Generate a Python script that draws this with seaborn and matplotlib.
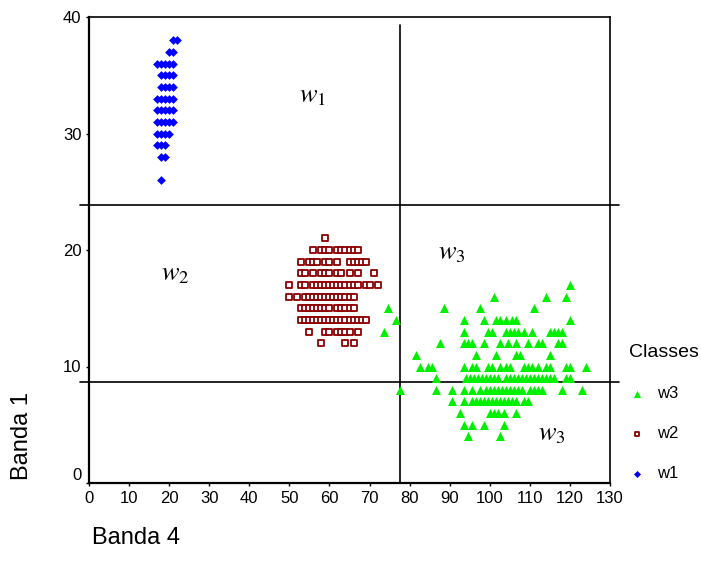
import pandas as pd
import matplotlib
matplotlib.use("Agg")
import matplotlib.pyplot as plt
import seaborn as sns

# Class w1 (blue diamonds): one row of Banda 4 values for each Banda 1 value
w1_y = [38, 37, 36, 35, 34, 33, 32, 31, 30, 29, 28, 26]
w1_x = [
    [21, 22],
    [20, 21],
    [17, 18, 19, 20, 21],
    [18, 19, 20, 21],
    [18, 19, 20, 21],
    [17, 18, 19, 20, 21],
    [17, 18, 19, 20, 21],
    [17, 18, 19, 20, 21],
    [17, 18, 19, 20],
    [17, 18, 19],
    [18, 19],
    [18],
]

# Class w2 (dark red open squares)
w2_y = [21, 20, 19, 18, 17, 16, 15, 14, 13, 12]
w2_x = [
    [59],
    [56, 58, 59, 60, 62, 63, 64, 65, 66, 67],
    [53, 55, 56, 57, 59, 60, 62, 65, 66, 67, 68, 69],
    [53, 54, 56, 58, 59, 60, 62, 63, 65, 67, 71],
    [50, 53, 54, 56, 57, 58, 59, 60, 61, 62, 63, 64, 65, 66, 67, 69, 70, 72],
    [50, 52, 54, 55, 56, 57, 58, 59, 60, 61, 62, 63, 64, 65, 66],
    [53, 54, 55, 56, 57, 58, 59, 60, 62, 63, 64, 65, 66],
    [53, 54, 55, 56, 57, 58, 59, 60, 61, 62, 63, 64, 65, 66, 67, 68, 69],
    [55, 59, 60, 62, 63, 64, 65, 67],
    [58, 64, 66],
]

# Class w3 (green triangles)
w3_y = [17, 16, 15, 14, 13, 12, 11, 10, 9, 8, 7, 6, 5, 4]
w3_x = [
    [120],
    [101, 114, 119],
    [74.5, 88.5, 97.5, 111],
    [76.5, 93.5, 98.5, 101.5, 102.5, 104, 105.5, 106.5, 120],
    [73.5, 93.5, 99.5, 100.5, 104, 105, 106, 107, 108.5, 110.5, 115, 116, 117, 118],
    [87.5, 93.5, 94.5, 95.5, 98.5, 102.5, 104.5, 106.5, 109.5, 112, 113, 117, 118],
    [81.5, 96.5, 101.5, 106.5, 107.5, 115],
    [82.5, 84.5, 85.5, 93.5, 95.5, 96.5, 99.5, 100.5, 102.5, 104, 105, 108.5,
     109.5, 110.5, 112, 114, 115, 119, 120, 124],
    [86.5, 94, 95, 96, 97, 98, 99, 100, 101, 102, 104, 105, 106, 107, 108, 109,
     110, 111, 112, 113, 114, 115, 116, 119, 120],
    [77.5, 86.5, 90.5, 93.5, 95.5, 97.5, 99, 100, 101, 102, 103, 104, 105, 106,
     107, 108, 110, 111, 112, 113, 118, 123],
    [90.5, 93.5, 95.5, 96.5, 97.5, 98.5, 99.5, 100.5, 101.5, 102.5, 103.5, 104.5,
     105.5, 106.5, 108.5, 109.5],
    [92.5, 100, 101, 102, 103.5, 106.5],
    [93.5, 95.5, 98.5, 103.5],
    [94.5, 102.5],
]

# decision boundaries
band1_upper = 23.9
band1_lower = 8.65
band4_split = 77.5

x_ticks = [0, 10, 20, 30, 40, 50, 60, 70, 80, 90, 100, 110, 120, 130]
y_ticks = [0, 10, 20, 30, 40]


def to_frame(ys, xs, name):
    rows = []
    for y, row in zip(ys, xs):
        for x in row:
            rows.append({"banda4": x, "banda1": y, "classe": name})
    return pd.DataFrame(rows)


df1 = to_frame(w1_y, w1_x, "w1")
df2 = to_frame(w2_y, w2_x, "w2")
df3 = to_frame(w3_y, w3_x, "w3")

sns.set_style("ticks")
plt.rcParams["font.family"] = ["Liberation Sans", "DejaVu Sans"]
plt.rcParams["mathtext.fontset"] = "stix"
for key in ["text.color", "axes.labelcolor", "xtick.color", "ytick.color"]:
    plt.rcParams[key] = "black"

fig = plt.figure(figsize=(7.01, 5.73), dpi=100)
ax = fig.add_axes([89 / 701, 1 - 483 / 573, (610 - 89) / 701, (483 - 17) / 573])

sns.scatterplot(data=df3, x="banda4", y="banda1", marker="^", color="#00f000",
                s=42, linewidth=0, label="w3", ax=ax, zorder=3)
sns.scatterplot(data=df2, x="banda4", y="banda1", marker="s", facecolor="white",
                edgecolor="#8b0000", s=19, linewidth=1.3, label="w2", ax=ax, zorder=3)
sns.scatterplot(data=df1, x="banda4", y="banda1", marker="D", color="#0000ff",
                s=20, linewidth=0, label="w1", ax=ax, zorder=3)

# class boundaries, drawn past the frame like the original
ax.plot([-2.2, 132.3], [band1_upper, band1_upper], color="black", lw=1.2, clip_on=False)
ax.plot([-2.2, 132.3], [band1_lower, band1_lower], color="black", lw=1.2, clip_on=False)
ax.plot([band4_split, band4_split], [0, 39.3], color="black", lw=1.2, clip_on=False)

ax.set_xlim(0, 130)
ax.set_ylim(0, 40)
ax.set_xticks(x_ticks)
ax.set_yticks(y_ticks)
ax.tick_params(labelsize=12, length=2.5, width=1, direction="out", pad=3)
ax.get_yticklabels()[0].set_va("bottom")
ax.set_xlabel("")
ax.set_ylabel("")
for side in ["left", "bottom"]:
    ax.spines[side].set_linewidth(1.6)
for side in ["top", "right"]:
    ax.spines[side].set_linewidth(1.2)
for sp in ax.spines.values():
    sp.set_color("black")

# region names
ax.text(55.8, 33.2, r"$\mathit{w}_{\mathit{1}}$", fontsize=19, ha="center", va="center")
ax.text(21.5, 17.9, r"$\mathit{w}_{\mathit{2}}$", fontsize=19, ha="center", va="center")
ax.text(90.5, 19.7, r"$\mathit{w}_{\mathit{3}}$", fontsize=19, ha="center", va="center")
ax.text(115.5, 4.2, r"$\mathit{w}_{\mathit{3}}$", fontsize=19, ha="center", va="center")

fig.text(92 / 701, 1 - 538 / 573, "Banda 4", fontsize=17, ha="left", va="center")
fig.text(22 / 701, 1 - 436 / 573, "Banda 1", fontsize=17, rotation=90,
         ha="center", va="center")

handles, labels = ax.get_legend_handles_labels()
leg = ax.legend(handles, labels, title="Classes", loc="upper left",
                bbox_to_anchor=(614 / 701, 1 - 329 / 573), bbox_transform=fig.transFigure,
                frameon=False, fontsize=12, title_fontsize=14, labelspacing=1.5,
                handlelength=1.0, handletextpad=0.7, markerscale=0.8, alignment="left")

fig.savefig("out.png", dpi=100)
